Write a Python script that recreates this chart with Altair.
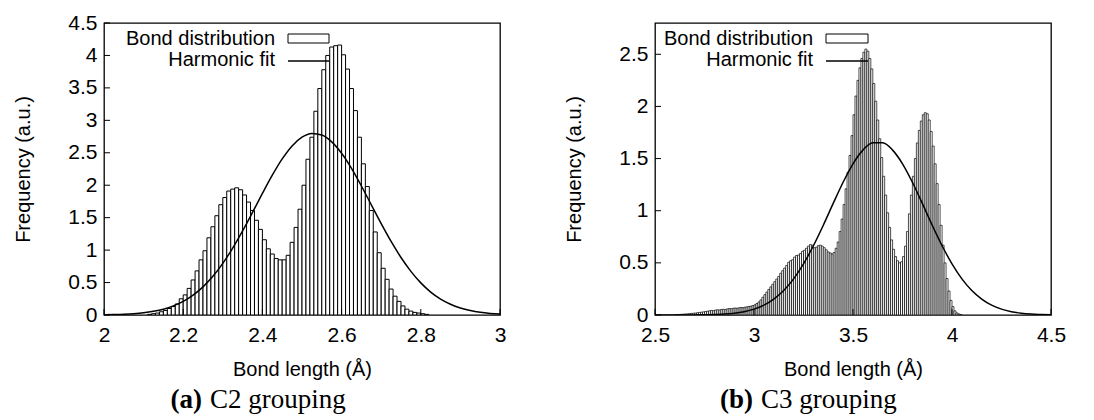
import altair as alt
import pandas as pd

# ---------------- data ----------------
# panel (a): C2 grouping, histogram of bond lengths (bin width 0.01, first bin starts at 2.11)
A_BIN_START = 2.11
A_BIN_WIDTH = 0.01
a_freq = [0.01, 0.02, 0.03, 0.05, 0.07, 0.10,
          0.13, 0.17, 0.25, 0.31, 0.41, 0.54, 0.68, 0.85, 0.99, 1.19,
          1.36, 1.53, 1.70, 1.81, 1.91, 1.94, 1.96, 1.93, 1.85, 1.74,
          1.61, 1.46, 1.32, 1.16, 1.02, 0.94, 0.87, 0.85, 0.85, 0.92,
          1.12, 1.35, 1.63, 2.00, 2.40, 2.74, 3.14, 3.49, 3.78, 4.00,
          4.13, 4.15, 4.16, 4.01, 3.79, 3.49, 3.15, 2.74, 2.33, 1.98,
          1.61, 1.28, 0.96, 0.72, 0.55, 0.40, 0.29, 0.21, 0.14, 0.09,
          0.06, 0.04, 0.03, 0.02, 0.01]
a_fit_x = [2.000, 2.025, 2.050, 2.075, 2.100, 2.125, 2.150, 2.175, 2.200, 2.225,
           2.250, 2.275, 2.300, 2.325, 2.350, 2.375, 2.400, 2.425, 2.450, 2.475,
           2.500, 2.525, 2.550, 2.575, 2.600, 2.625, 2.650, 2.675, 2.700, 2.725,
           2.750, 2.775, 2.800, 2.825, 2.850, 2.875, 2.900, 2.925, 2.950, 2.975, 3.000]
a_fit_y = [0.004, 0.007, 0.012, 0.020, 0.034, 0.057, 0.090, 0.140, 0.210, 0.307,
           0.434, 0.597, 0.796, 1.031, 1.296, 1.581, 1.873, 2.154, 2.405, 2.606,
           2.741, 2.798, 2.773, 2.668, 2.492, 2.259, 1.988, 1.698, 1.408, 1.133,
           0.886, 0.672, 0.495, 0.353, 0.245, 0.165, 0.108, 0.069, 0.042, 0.025, 0.015]

# panel (b): C3 grouping (bin width 0.01, first bin starts at 2.60)
B_BIN_START = 2.60
B_BIN_WIDTH = 0.01
b_freq = [0.003, 0.004, 0.005, 0.007, 0.008, 0.010, 0.011, 0.013, 0.015, 0.017,
          0.019, 0.022, 0.025, 0.027, 0.030, 0.033, 0.036, 0.040, 0.044, 0.042,
          0.047, 0.050, 0.048, 0.053, 0.055, 0.052, 0.058, 0.062, 0.060, 0.064,
          0.067, 0.065, 0.069, 0.072, 0.070, 0.075, 0.078, 0.082, 0.085, 0.090,
          0.098, 0.110, 0.125, 0.145, 0.170, 0.195, 0.220, 0.245, 0.270, 0.295,
          0.320, 0.345, 0.370, 0.400, 0.425, 0.450, 0.475, 0.505, 0.520, 0.530,
          0.555, 0.570, 0.575, 0.590, 0.610, 0.620, 0.640, 0.660, 0.675, 0.670,
          0.645, 0.650, 0.665, 0.670, 0.660, 0.645, 0.625, 0.605, 0.595, 0.585,
          0.600, 0.640, 0.700, 0.800, 0.920, 1.060, 1.210, 1.370, 1.530, 1.720,
          1.920, 2.100, 2.250, 2.370, 2.460, 2.520, 2.550, 2.530, 2.460, 2.360,
          2.220, 2.050, 1.870, 1.690, 1.510, 1.330, 1.150, 0.980, 0.840, 0.720,
          0.630, 0.560, 0.520, 0.500, 0.510, 0.560, 0.660, 0.800, 0.970, 1.150,
          1.330, 1.500, 1.650, 1.770, 1.860, 1.920, 1.940, 1.930, 1.870, 1.760,
          1.620, 1.450, 1.260, 1.060, 0.860, 0.670, 0.500, 0.350, 0.230, 0.140,
          0.080, 0.040, 0.020, 0.010, 0.005]
b_fit_x = [2.50, 2.55, 2.60, 2.65, 2.70, 2.75, 2.80, 2.85, 2.90, 2.95,
           3.00, 3.05, 3.10, 3.15, 3.20, 3.25, 3.30, 3.35, 3.40, 3.45,
           3.50, 3.55, 3.60, 3.65, 3.70, 3.75, 3.80, 3.85, 3.90, 3.95,
           4.00, 4.05, 4.10, 4.15, 4.20, 4.25, 4.30, 4.35, 4.40, 4.45, 4.50]
b_fit_y = [0.000, 0.000, 0.000, 0.000, 0.001, 0.002, 0.005, 0.009, 0.017, 0.032,
           0.056, 0.094, 0.152, 0.234, 0.346, 0.490, 0.664, 0.861, 1.070, 1.273,
           1.450, 1.581, 1.651, 1.651, 1.581, 1.450, 1.273, 1.070, 0.861, 0.664,
           0.490, 0.346, 0.234, 0.152, 0.094, 0.056, 0.032, 0.017, 0.009, 0.005, 0.002]

a_xticks = [2, 2.2, 2.4, 2.6, 2.8, 3]
a_yticks = [0, 0.5, 1, 1.5, 2, 2.5, 3, 3.5, 4, 4.5]
b_xticks = [2.5, 3, 3.5, 4, 4.5]
b_yticks = [0, 0.5, 1, 1.5, 2, 2.5]

legend_labels = ["Bond distribution", "Harmonic fit"]
x_title = "Bond length (Å)"
y_title = "Frequency (a.u.)"

SANS = "Liberation Sans"
SERIF = "Liberation Serif"
W, H = 396, 292


def panel(freq, start, width, fit_x, fit_y, xdom, xticks, ydom, yticks,
          bar_sw, leg_text_x, leg_x0, leg_x1, cap_tag, cap_text):
    bins = pd.DataFrame({"i": list(range(len(freq))), "freq": freq})
    fit = pd.DataFrame({"x": fit_x, "y": fit_y})
    xs = alt.Scale(domain=xdom, nice=False, zero=False)
    ys = alt.Scale(domain=ydom, nice=False, zero=True)
    xax = alt.Axis(values=xticks, format="~g", grid=False, ticks=False, tickSize=0,
                   domain=False, labelFont=SANS, labelFontSize=21, labelColor="black",
                   labelPadding=9, labelFlush=False, titleFont=SANS, titleFontSize=20,
                   titleFontWeight="normal", titleColor="black", titleY=60,
                   titleBaseline="alphabetic")
    yax = alt.Axis(values=yticks, format="~g", grid=False, ticks=False, tickSize=0,
                   domain=False, labelFont=SANS, labelFontSize=21, labelColor="black",
                   labelPadding=7, labelFlush=False, titleFont=SANS, titleFontSize=20,
                   titleFontWeight="normal", titleColor="black", titleAngle=270,
                   titleX=-75, titleY=H / 2, titleAlign="center",
                   titleBaseline="alphabetic")

    def X(f):
        return alt.X(f, scale=xs, title=x_title, axis=xax)

    def Y(f):
        return alt.Y(f, scale=ys, title=y_title, axis=yax)

    bars = alt.Chart(bins).transform_calculate(
        x0=f"{start} + datum.i * {width}",
        x1=f"{start} + (datum.i + 1) * {width}",
    ).mark_rect(fill="white", stroke="black", strokeWidth=bar_sw, clip=True).encode(
        x=X("x0:Q"), x2="x1:Q", y=Y("freq:Q"), y2=alt.datum(0),
    )

    line = alt.Chart(fit).mark_line(color="black", strokeWidth=1.5, interpolate="monotone",
                                    clip=True).encode(x=X("x:Q"), y=Y("y:Q"))

    ytk = alt.Chart(pd.DataFrame({"v": yticks})).mark_rule(color="black", strokeWidth=1).encode(
        y=Y("v:Q"), x=alt.value(0), x2=alt.value(6))
    xtk = alt.Chart(pd.DataFrame({"v": xticks})).mark_rule(color="black", strokeWidth=1).encode(
        x=X("v:Q"), y=alt.value(H), y2=alt.value(H - 6))

    one = alt.Data(values=[{"k": 1}])
    leg1 = alt.Chart(one).mark_text(align="right", baseline="alphabetic", font=SANS, fontSize=20,
                                    color="black", text=legend_labels[0]).encode(
        x=alt.value(leg_text_x), y=alt.value(22))
    leg2 = alt.Chart(one).mark_text(align="right", baseline="alphabetic", font=SANS, fontSize=20,
                                    color="black", text=legend_labels[1]).encode(
        x=alt.value(leg_text_x), y=alt.value(43))
    legbox = alt.Chart(one).mark_rect(fill="white", stroke="black", strokeWidth=1).encode(
        x=alt.value(leg_x0), x2=alt.value(leg_x1), y=alt.value(11), y2=alt.value(20))
    legline = alt.Chart(one).mark_rule(color="black", strokeWidth=1.5).encode(
        x=alt.value(leg_x0), x2=alt.value(leg_x1), y=alt.value(38))

    cap1 = alt.Chart(one).mark_text(align="right", baseline="alphabetic", font=SERIF, fontSize=27,
                                    fontWeight="bold", color="black", text=cap_tag).encode(
        x=alt.value(98), y=alt.value(385))
    cap2 = alt.Chart(one).mark_text(align="left", baseline="alphabetic", font=SERIF, fontSize=27,
                                    color="black", text=cap_text).encode(
        x=alt.value(106), y=alt.value(385))

    return alt.layer(bars, line, ytk, xtk, leg1, leg2, legbox, legline, cap1, cap2).properties(
        width=W, height=H)


pa = panel(a_freq, A_BIN_START, A_BIN_WIDTH, a_fit_x, a_fit_y, [2, 3], a_xticks, [0, 4.5], a_yticks,
           1.0, 171, 184, 225, "(a)", "C2 grouping")
pb = panel(b_freq, B_BIN_START, B_BIN_WIDTH, b_fit_x, b_fit_y, [2.5, 4.5], b_xticks, [0, 2.8], b_yticks,
           0.7, 158, 171, 213, "(b)", "C3 grouping")

chart = alt.hconcat(pa, pb, spacing=155, bounds="flush").configure_view(
    stroke="black", strokeWidth=1.3).properties(
    padding={"left": 12, "top": 11, "right": 0, "bottom": 0}, background="white")

chart.save("out.html", embed_options={"renderer": "svg", "actions": False})
